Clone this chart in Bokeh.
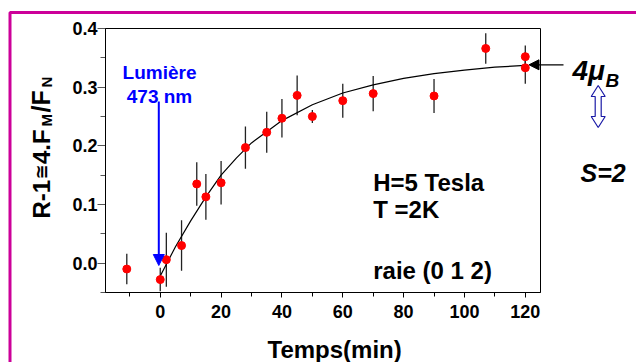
from math import pi
from bokeh.plotting import figure
from bokeh.models import (ColumnDataSource, Range1d, Label, Arrow, NormalHead,
                          BoxAnnotation, PolyAnnotation, SingleIntervalTicker,
                          NumeralTickFormatter)
from bokeh.embed import file_html
from bokeh.resources import INLINE

# ---- data ----
t_min = [-11, 0, 2, 7, 12, 15, 20, 28, 35, 40, 45, 50, 60, 70, 90, 107, 120, 120]
r_val = [-0.010, -0.028, 0.006, 0.030, 0.135, 0.113, 0.137, 0.197, 0.223, 0.247,
         0.286, 0.250, 0.277, 0.289, 0.285, 0.366, 0.352, 0.333]
r_err = [0.026, 0.020, 0.046, 0.043, 0.037, 0.039, 0.037, 0.036, 0.035, 0.033,
         0.034, 0.011, 0.029, 0.030, 0.029, 0.026, 0.019, 0.027]

fit_t = [0, 5, 10, 15, 20, 25, 30, 35, 40, 50, 60, 70, 80, 90, 100, 110, 120]
fit_y = [-0.022, 0.028, 0.072, 0.113, 0.150, 0.179, 0.205, 0.224, 0.243, 0.270,
         0.290, 0.304, 0.315, 0.323, 0.329, 0.334, 0.337]

x_tick_interval = 20
y_tick_interval = 0.1

# axis extents of the plot box
X0, X1 = -18, 125
Y0, Y1 = -0.05, 0.40

# ---- geometry: plot box in page pixels; whole canvas is the data frame ----
W, H = 636, 362
FL, FR, FT, FB = 105, 540, 28, 292
SX = (FR - FL) / (X1 - X0)     # px per minute
SY = (FB - FT) / (Y1 - Y0)     # px per unit


def dx(ix):
    return X0 + (ix - FL) / SX


def dy(iy):
    return Y1 - (iy - FT) / SY


p = figure(width=W, height=H,
           x_range=Range1d(dx(0), dx(W)), y_range=Range1d(dy(H), dy(0)),
           output_backend="svg", toolbar_location=None,
           min_border=0, min_border_left=0, min_border_right=0,
           min_border_top=0, min_border_bottom=0)
p.background_fill_color = "white"
p.border_fill_color = "white"
p.outline_line_color = None
p.xgrid.visible = False
p.ygrid.visible = False

FONT = "Liberation Sans"

p.xaxis.ticker = SingleIntervalTicker(interval=x_tick_interval, num_minor_ticks=2)
p.yaxis.ticker = SingleIntervalTicker(interval=y_tick_interval, num_minor_ticks=2)
p.yaxis.formatter = NumeralTickFormatter(format="0.0")
p.xaxis.fixed_location = Y0
p.yaxis.fixed_location = X0
p.xaxis.bounds = (X0, X1)
p.yaxis.bounds = (Y0, Y1)
for ax in (p.xaxis, p.yaxis):
    ax.major_label_text_font = FONT
    ax.major_label_text_font_style = "bold"
    ax.major_label_text_font_size = "18px"
    ax.major_label_text_color = "black"
    ax.major_tick_in = 0
    ax.minor_tick_in = 0
p.xaxis.axis_line_color = "black"
p.xaxis.major_tick_line_color = "black"
p.xaxis.minor_tick_line_color = "black"
p.xaxis.major_tick_out = 5
p.xaxis.minor_tick_out = 4
p.xaxis.major_label_standoff = 7
p.yaxis.axis_line_color = "#555555"
p.yaxis.major_tick_line_color = "#555555"
p.yaxis.minor_tick_line_color = "#555555"
p.yaxis.major_tick_out = 8
p.yaxis.minor_tick_out = 5
p.yaxis.major_label_standoff = 0

# plot box (top and right sides)
p.add_layout(BoxAnnotation(left=X0, right=X1, bottom=Y0, top=Y1, fill_alpha=0,
                           line_color="black", line_alpha=1, line_width=1))

# ---- marks ----
src = ColumnDataSource(dict(t=t_min, r=r_val,
                            lo=[v - e for v, e in zip(r_val, r_err)],
                            hi=[v + e for v, e in zip(r_val, r_err)]))
p.segment(x0="t", y0="lo", x1="t", y1="hi", source=src, line_color="#222222",
          line_width=1.3)
p.line(fit_t, fit_y, line_color="black", line_width=1.2)
p.scatter("t", "r", source=src, size=8, fill_color="#ff0000", line_color="#ff0000")


# ---- annotations ----
def lab(text, ix, iy, size, color="black", style="bold", align="left",
        baseline="alphabetic", angle=0, font=FONT):
    p.add_layout(Label(x=dx(ix), y=dy(iy), text=text, text_font=font,
                       text_font_size=f"{size}px", text_font_style=style,
                       text_color=color, text_align=align,
                       text_baseline=baseline, angle=angle))


# magenta frame
p.add_layout(BoxAnnotation(left=dx(9.5), right=dx(W + 30), top=dy(12), bottom=dy(H + 30),
                           fill_alpha=0, line_color="#cc0099", line_alpha=1,
                           line_width=3))

# blue light arrow
p.add_layout(Arrow(x_start=dx(158.3), y_start=dy(101), x_end=dx(158.3), y_end=dy(265),
                   line_color="#0000ff", line_width=2,
                   end=NormalHead(size=11, fill_color="#0000ff", line_color="#0000ff")))
lab("Lumière", 159, 72, 19, color="#0000ff", align="center")
lab("473 nm", 159, 96, 19, color="#0000ff", align="center")

# black arrow to saturation
p.add_layout(Arrow(x_start=dx(563), y_start=dy(64.3), x_end=dx(528.5), y_end=dy(64.3),
                   line_color="black", line_width=1.2,
                   end=NormalHead(size=10, fill_color="black", line_color="black")))
lab("4μ", 572, 70, 28, style="bold italic")
lab("B", 605, 80, 19, style="bold italic")

# hollow double arrow
cx, cy = 597.7, 106
pts = [(0, -21), (7, -10), (3, -10), (3, 10), (7, 10), (0, 21), (-7, 10), (-3, 10),
       (-3, -10), (-7, -10)]
p.add_layout(PolyAnnotation(xs=[dx(cx + a) for a, b in pts],
                            ys=[dy(cy + b) for a, b in pts],
                            fill_color="white", fill_alpha=1,
                            line_color="#1a1aa6", line_alpha=1, line_width=1.2))
lab("S=2", 580, 172, 25, style="bold italic")

# in-plot texts
lab("H=5 Tesla", 372.7, 182, 24)
lab("T =2K", 372.7, 209, 24)
lab("raie (0 1 2)", 372.7, 270, 24)

# x axis title
lab("Temps(min)", 267, 349, 24)

# y axis title pieces (rotated)
A = pi / 2
lab("R-1", 40.5, 218, 24, angle=A)
lab("≅", 40.5, 179, 18, angle=A, font="DejaVu Sans")
lab("4.F", 40.5, 163.5, 24, angle=A)
lab("M", 46, 126, 15, angle=A)
lab("/F", 40.5, 112, 25, angle=A)
lab("N", 46, 87, 15, angle=A)

open("out.html", "w").write(file_html(p, INLINE))
